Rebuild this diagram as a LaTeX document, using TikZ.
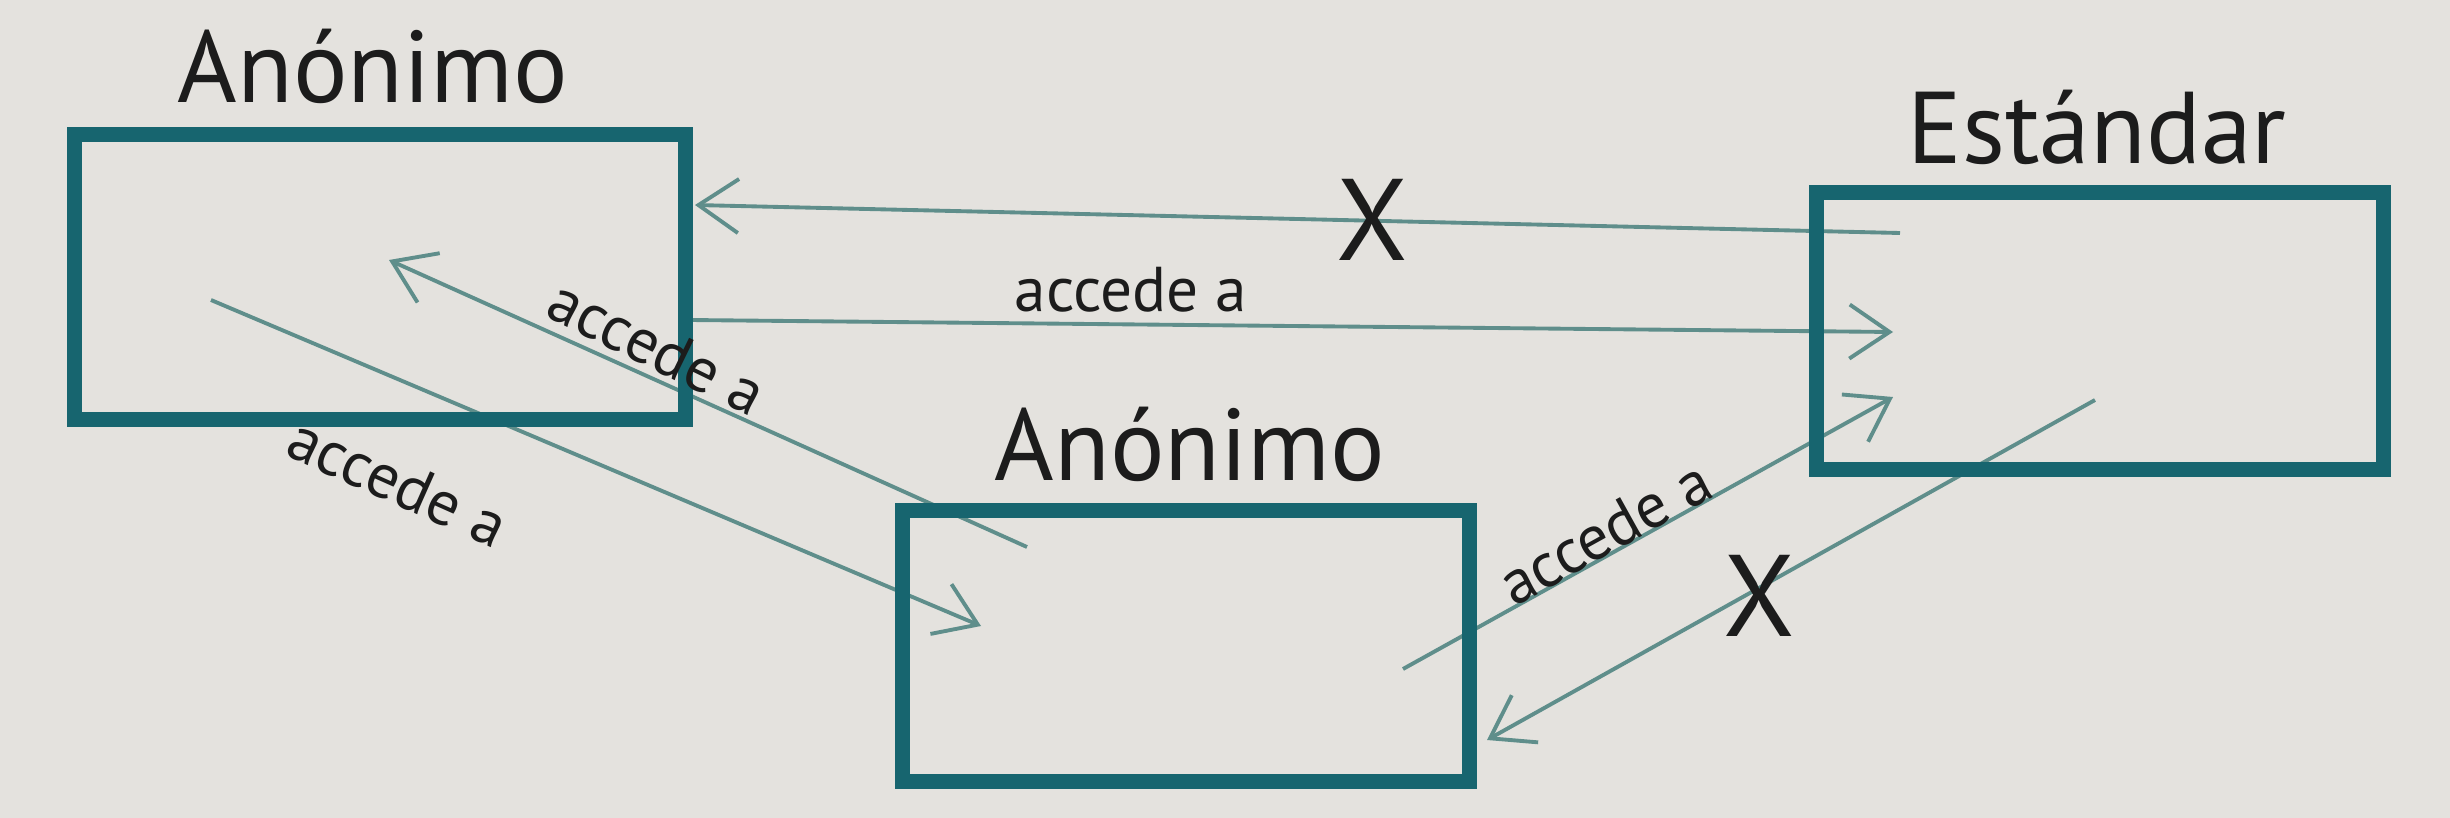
\documentclass[tikz,border=0pt]{standalone}
\usepackage{fontspec}
\setmainfont{PT Sans}
\usetikzlibrary{arrows.meta}

\definecolor{boxteal}{HTML}{17656F}
\definecolor{linkteal}{HTML}{5F8E8B}
\definecolor{screen}{HTML}{E4E2DE}
\definecolor{ink}{HTML}{1C1C1C}

\begin{document}
\begin{tikzpicture}
[
	x=0.01cm,y=-0.01cm,
	role/.style={draw=boxteal,line width=4.2pt,inner sep=0pt},
	rolename/.style={anchor=base,font=\fontsize{29}{34}\selectfont,text=ink},
	link/.style={draw=linkteal,line width=1.1pt,-{Straight Barb[length=4mm,width=5.4mm]}},
	linklabel/.style={font=\fontsize{18}{21}\selectfont,text=ink,inner sep=0pt},
	cross/.style={font=\fontsize{33}{38}\selectfont,text=ink,inner sep=0pt}
]

	% screen
	\fill[screen] (0,0) rectangle (2450,818);
	\useasboundingbox (0,0) rectangle (2450,818);

	% arrow ends
	\coordinate (noA-s) at (1900,233);
	\coordinate (noA-e) at (695,205);
	\coordinate (AC-s) at (690,320);
	\coordinate (AC-e) at (1893,332);
	\coordinate (BA-s) at (1027,547);
	\coordinate (BA-e) at (389,260);
	\coordinate (AB-s) at (211,300);
	\coordinate (AB-e) at (981,626);
	\coordinate (BC-s) at (1403,669);
	\coordinate (BC-e) at (1893,397);
	\coordinate (noB-s) at (2095,400);
	\coordinate (noB-e) at (1487,740);

	% connectors
	\draw[link] (noA-s) -- (noA-e);
	\draw[link] (AC-s) -- (AC-e);
	\draw[link] (BA-s) -- (BA-e);
	\draw[link] (AB-s) -- (AB-e);
	\draw[link] (BC-s) -- (BC-e);
	\draw[link] (noB-s) -- (noB-e);

	% roles
	\node[role,minimum width=6.10cm,minimum height=2.85cm] at (380,277) (anonA) {};
	\node[role,minimum width=5.67cm,minimum height=2.71cm] at (1186,646) (anonB) {};
	\node[role,minimum width=5.66cm,minimum height=2.77cm] at (2100,331) (std) {};

	\node[rolename] at (373,102) (anonA-name) {Anónimo};
	\node[rolename] at (1190,480) (anonB-name) {Anónimo};
	\node[rolename] at (2097,163) (std-name) {Estándar};

	% labels
	\node[linklabel] at (1131,290) (AC-lbl) {accede a};
	\node[linklabel,rotate=-26] at (657,347) (BA-lbl) {accede a};
	\node[linklabel,rotate=-24] at (398,482) (AB-lbl) {accede a};
	\node[linklabel,rotate=29] at (1605,532) (BC-lbl) {accede a};

	\node[cross] at (1372,220) (noA-x) {X};
	\node[cross] at (1759,596) (noB-x) {X};

\end{tikzpicture}
\end{document}
